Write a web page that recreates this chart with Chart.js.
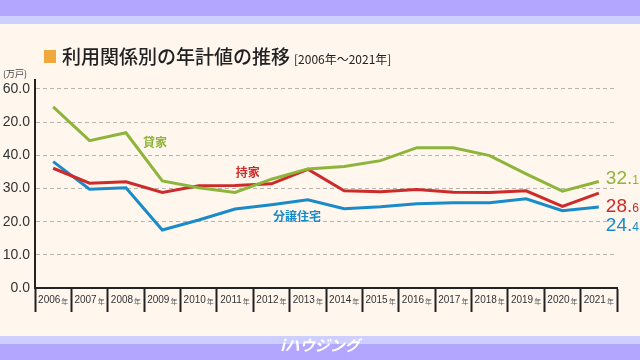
<!DOCTYPE html>
<html lang="ja">
<head>
  <meta charset="UTF-8">
  <title>利用関係別の年計値の推移</title>
  <script src="https://cdn.jsdelivr.net/npm/chart.js"></script>
  <style>
    html, body { margin: 0; padding: 0; background: #fff6ee; }
    #wrap { width: 640px; height: 360px; }
  </style>
</head>
<body>
<div id="wrap"><canvas id="houseChart" width="640" height="360"></canvas></div>

<script>
  // 年
  const years = ["2006", "2007", "2008", "2009", "2010", "2011", "2012", "2013",
    "2014", "2015", "2016", "2017", "2018", "2019", "2020", "2021"];

  // 万戸
  const rental = [54.6, 44.4, 46.8, 32.3, 30.2, 28.8, 32.8, 35.9,
    36.6, 38.4, 42.3, 42.3, 39.9, 34.4, 29.2, 32.1];
  const owned = [36.1, 31.6, 32.0, 28.8, 30.8, 30.9, 31.4, 35.8,
    29.3, 29.0, 29.7, 28.9, 28.8, 29.3, 24.6, 28.6];
  const forSale = [38.1, 29.8, 30.2, 17.5, 20.5, 23.8, 25.1, 26.6,
    23.9, 24.5, 25.4, 25.7, 25.7, 26.9, 23.3, 24.4];

  // y軸ラベル（元画像のまま）
  const yTickLabels = ["0.0", "10.0", "20.0", "30.0", "40.0", "20.0", "60.0"];

  const GREEN = "#8db53b";
  const RED = "#cd2b29";
  const BLUE = "#1a8bc9";
  const JP = "'Noto Sans CJK JP', 'Noto Sans', sans-serif";

  const seriesNames = ["貸家", "持家", "分譲住宅"];
  const seriesColors = [GREEN, RED, BLUE];
  // 系列名ラベルの位置（カテゴリ位置, 値）
  const nameAt = [[2.8, 43.8], [5.35, 34.7], [6.7, 21.6]];
  // 右端の数値ラベルの高さ（値）
  const endLabelAt = [33.4, 25.1, 19.3];

  const backdrop = {
    id: "backdrop",
    beforeDraw(chart) {
      const ctx = chart.ctx;
      ctx.save();
      ctx.fillStyle = "#fff6ee";
      ctx.fillRect(0, 0, 640, 360);
      ctx.fillStyle = "#b3a6ff";
      ctx.fillRect(0, 0, 640, 16);
      ctx.fillStyle = "#cdd0ff";
      ctx.fillRect(0, 16, 640, 8);
      ctx.fillStyle = "#cdd0ff";
      ctx.fillRect(0, 336, 640, 8);
      ctx.fillStyle = "#b3a6ff";
      ctx.fillRect(0, 344, 640, 16);

      // logo
      ctx.fillStyle = "#ffffff";
      ctx.font = "italic bold 15px " + JP;
      ctx.textAlign = "center";
      ctx.textBaseline = "middle";
      ctx.fillText("iハウジング", 320, 345);

      // title
      ctx.fillStyle = "#eea83c";
      ctx.fillRect(44, 50, 12, 13);
      ctx.fillStyle = "#222";
      ctx.textAlign = "left";
      ctx.font = "500 19px " + JP;
      ctx.fillText("利用関係別の年計値の推移", 62, 57);
      ctx.font = "12px " + JP;
      ctx.fillText("[2006年～2021年]", 294, 59);

      ctx.fillStyle = "#444";
      ctx.font = "9px " + JP;
      ctx.fillText("(万戸)", 3, 74);
      ctx.restore();
    }
  };

  const decorations = {
    id: "decorations",
    afterDatasetsDraw(chart) {
      const ctx = chart.ctx;
      const xs = chart.scales.x;
      const ys = chart.scales.y;
      ctx.save();
      ctx.textBaseline = "middle";

      // x軸ラベル
      years.forEach((y, i) => {
        const cx = xs.getPixelForValue(i);
        ctx.font = "10px 'Liberation Sans', sans-serif";
        const w1 = ctx.measureText(y).width;
        ctx.font = "7px " + JP;
        const w2 = ctx.measureText("年").width;
        const left = cx - (w1 + 1 + w2) / 2;
        ctx.textAlign = "left";
        ctx.fillStyle = "#333";
        ctx.font = "10px 'Liberation Sans', sans-serif";
        ctx.fillText(y, left, 300);
        ctx.fillStyle = "#555";
        ctx.font = "7px " + JP;
        ctx.fillText("年", left + w1 + 1, 301);
      });

      // 系列名
      ctx.textAlign = "center";
      ctx.font = "bold 12px " + JP;
      seriesNames.forEach((name, k) => {
        ctx.fillStyle = seriesColors[k];
        ctx.fillText(name, xs.getPixelForValue(nameAt[k][0]), ys.getPixelForValue(nameAt[k][1]));
      });

      // 右端の数値
      const lastVals = [rental, owned, forSale].map(s => s[s.length - 1]);
      ctx.textAlign = "left";
      ctx.textBaseline = "alphabetic";
      lastVals.forEach((v, k) => {
        const parts = v.toFixed(1).split(".");
        const x0 = xs.getPixelForValue(years.length - 1) + 7;
        const yb = ys.getPixelForValue(endLabelAt[k]) + 7;
        ctx.fillStyle = seriesColors[k];
        ctx.font = "19px 'Liberation Sans', sans-serif";
        const big = parts[0] + ".";
        ctx.fillText(big, x0, yb);
        const bw = ctx.measureText(big).width;
        ctx.font = "12px 'Liberation Sans', sans-serif";
        ctx.fillText(parts[1], x0 + bw, yb);
      });
      ctx.restore();
    }
  };

  const ctx = document.getElementById("houseChart").getContext("2d");
  const houseChart = new Chart(ctx, {
    type: "line",
    data: {
      labels: years,
      datasets: [
        { label: "貸家", data: rental, borderColor: GREEN },
        { label: "持家", data: owned, borderColor: RED },
        { label: "分譲住宅", data: forSale, borderColor: BLUE }
      ]
    },
    options: {
      responsive: false,
      animation: false,
      layout: { padding: { top: 80, right: 23, left: 0, bottom: 0 } },
      elements: {
        line: { borderWidth: 3, tension: 0, borderCapStyle: "butt" },
        point: { radius: 0, hoverRadius: 0 }
      },
      plugins: {
        legend: { display: false },
        tooltip: { enabled: false },
        title: { display: false }
      },
      scales: {
        x: {
          offset: true,
          grid: {
            offset: true,
            drawOnChartArea: false,
            drawTicks: true,
            tickLength: 24,
            tickColor: "#222",
            tickWidth: 2
          },
          border: { color: "#222", width: 2 },
          ticks: { display: false },
          afterFit(scale) { scale.height = 72; }
        },
        y: {
          min: 0,
          max: 62.7,
          ticks: {
            stepSize: 10,
            includeBounds: false,
            padding: 5,
            color: "#333",
            font: { size: 14, family: "'Liberation Sans', sans-serif" },
            callback: (v) => yTickLabels[Math.round(v / 10)]
          },
          grid: { color: "#b9b4ae", drawTicks: false, lineWidth: 1 },
          border: { color: "#222", width: 2, dash: [4, 3] },
          afterFit(scale) { scale.width = 35; }
        }
      }
    },
    plugins: [backdrop, decorations]
  });
</script>
</body>
</html>
